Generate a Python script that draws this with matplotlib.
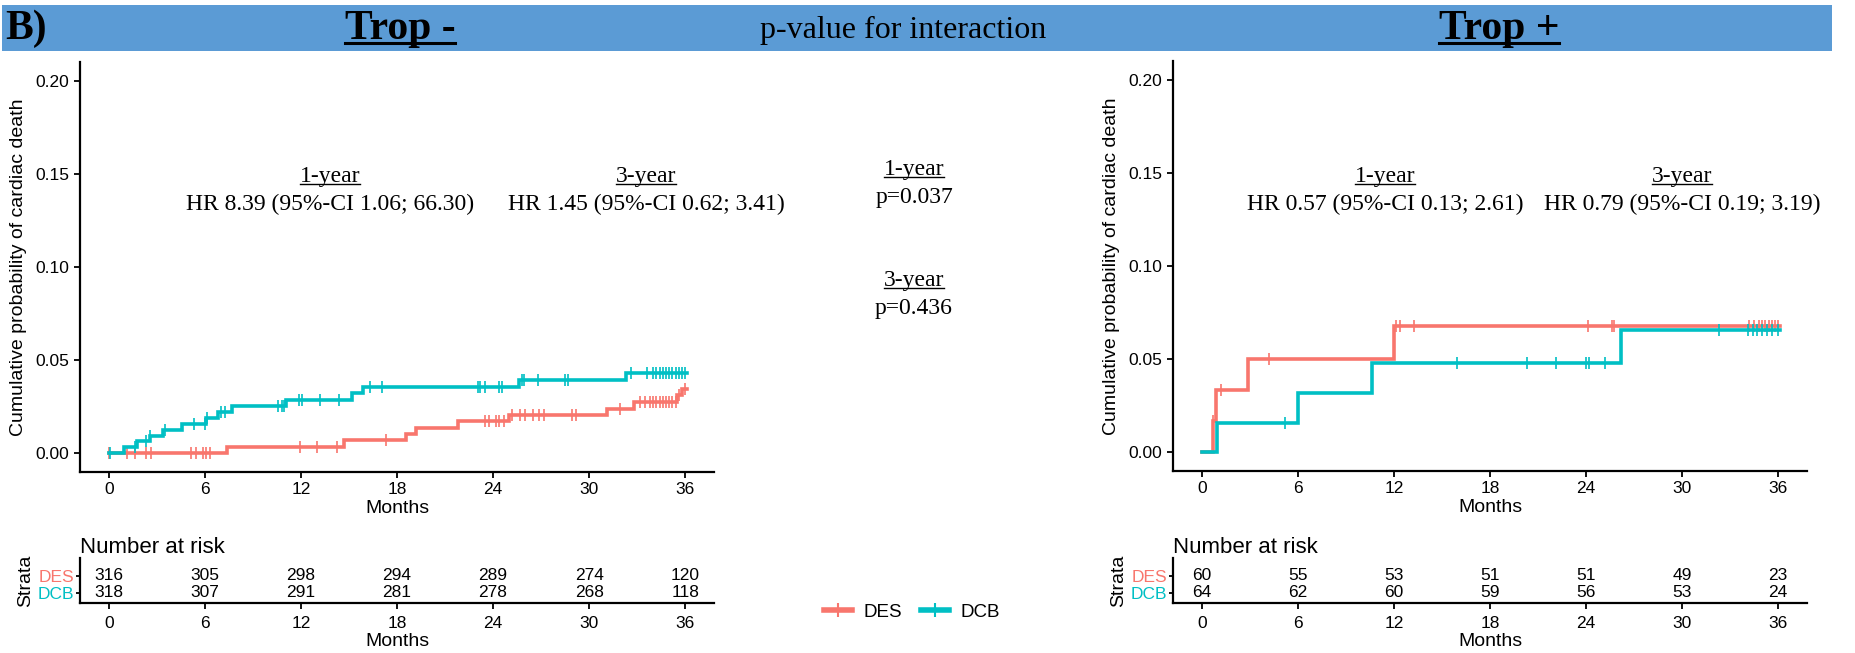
import matplotlib
matplotlib.use('Agg')

import numpy as np
import matplotlib.pyplot as plt
from matplotlib.lines import Line2D
from matplotlib.patches import Rectangle

# ---------------- data ----------------
months_ticks = [0, 6, 12, 18, 24, 30, 36]
groups = ['DES', 'DCB']
colors = {'DES': '#F8766D', 'DCB': '#00BFC4'}

# Trop - : cumulative incidence step curves (time in months, probability)
neg_des_t = [0, 7.4, 14.7, 18.55, 19.2, 21.8, 25.0, 31.1, 32.8, 35.5, 35.8, 36.1]
neg_des_y = [0, 0.0034, 0.0070, 0.0104, 0.0137, 0.0171, 0.0204, 0.0239, 0.0275, 0.0310, 0.0345, 0.0345]
neg_dcb_t = [0, 0.93, 1.75, 2.6, 3.4, 4.55, 6.1, 6.8, 7.7, 11.05, 15.2, 15.9, 25.6, 32.3, 36.1]
neg_dcb_y = [0, 0.0031, 0.0063, 0.0094, 0.0126, 0.0158, 0.0190, 0.0222, 0.0254, 0.0286, 0.0321, 0.0355,
             0.0392, 0.0431, 0.0431]

neg_des_cens = [0.0, 1.13, 1.66, 2.32, 2.66, 5.16, 5.47, 5.87, 6.08, 6.34, 11.97, 13.03, 14.24, 17.3,
                23.5, 23.76, 24.16, 24.4, 24.7, 25.2, 25.7, 26.0, 26.5, 26.9, 27.2, 28.9, 29.2, 31.9,
                33.2, 33.5, 33.8, 34.0, 34.2, 34.4, 34.6, 34.8, 35.0, 35.2, 35.4, 35.6, 36.0]
neg_dcb_cens = [0.1, 1.66, 2.3, 2.6, 3.5, 5.34, 6.0, 6.15, 7.0, 7.26, 10.55, 10.8, 10.95, 11.9, 12.05,
                13.2, 14.4, 16.3, 17.05, 23.05, 23.2, 23.5, 24.4, 24.55, 25.8, 25.95, 26.8, 28.5, 28.7,
                32.6, 33.6, 34.0, 34.2, 34.4, 34.6, 34.8, 35.0, 35.2, 35.4, 35.6, 35.8, 36.0]

# Trop +
pos_des_t = [0, 0.7, 0.86, 2.87, 12.0, 36.1]
pos_des_y = [0, 0.0167, 0.0333, 0.0500, 0.0679, 0.0679]
pos_dcb_t = [0, 0.95, 6.03, 10.6, 26.2, 36.1]
pos_dcb_y = [0, 0.0156, 0.0317, 0.0478, 0.0657, 0.0657]

pos_des_cens = [0.72, 1.2, 4.2, 12.15, 12.35, 13.25, 24.1, 25.65, 25.75, 34.2, 34.5, 34.8, 35.0,
                35.2, 35.4, 35.6, 35.8, 36.0]
pos_dcb_cens = [5.17, 15.95, 20.3, 22.1, 24.0, 24.2, 25.2, 32.3, 34.1, 34.4, 34.7, 35.0, 35.3, 35.6, 36.0]

# number at risk
neg_risk = {'DES': [316, 305, 298, 294, 289, 274, 120],
            'DCB': [318, 307, 291, 281, 278, 268, 118]}
pos_risk = {'DES': [60, 55, 53, 51, 51, 49, 23],
            'DCB': [64, 62, 60, 59, 56, 53, 24]}

# hazard ratios / interaction p-values
neg_hr = ['HR 8.39 (95%-CI 1.06; 66.30)', 'HR 1.45 (95%-CI 0.62; 3.41)']
pos_hr = ['HR 0.57 (95%-CI 0.13; 2.61)', 'HR 0.79 (95%-CI 0.19; 3.19)']
p_inter = ['p=0.037', 'p=0.436']
periods = ['1-year', '3-year']

# ---------------- figure ----------------
W, H = 1855, 653
fig = plt.figure(figsize=(W / 100, H / 100), dpi=100)
SANS = 'Liberation Sans'
SERIF = 'Liberation Serif'


def fx(x):
    return x / W


def fy(y):
    return 1 - y / H


def box(x0, y0, x1, y1):
    return [fx(x0), fy(y1), fx(x1) - fx(x0), (y1 - y0) / H]


underlined = []


def serif_text(x, y, s, size, weight='normal', underline=False):
    t = fig.text(fx(x), fy(y), s, ha='center', va='baseline', fontsize=size,
                 fontweight=weight, family=SERIF)
    if underline:
        underlined.append(t)
    return t


def step_value(t_list, y_list, t):
    idx = np.searchsorted(t_list, t, side='right') - 1
    return np.asarray(y_list)[idx]


def style_axis(ax):
    for s in ['top', 'right']:
        ax.spines[s].set_visible(False)
    for s in ['left', 'bottom']:
        ax.spines[s].set_linewidth(1.6)
    ax.tick_params(width=1.3, length=4, labelsize=12.5, colors='black')
    for lab in ax.get_xticklabels() + ax.get_yticklabels():
        lab.set_family(SANS)


def km_panel(rect, curves):
    ax = fig.add_axes(rect)
    for name, t, y, cens in curves:
        ax.step(t, y, where='post', color=colors[name], lw=2.6, solid_joinstyle='miter')
        cy = [step_value(t, y, c) for c in cens]
        ax.plot(cens, cy, ls='none', marker='|', ms=9, mew=1.2, color=colors[name])
    ax.set_xlim(-1.8, 37.8)
    ax.set_ylim(-0.0102, 0.2102)
    ax.set_xticks(months_ticks)
    ax.set_yticks([0, 0.05, 0.10, 0.15, 0.20])
    ax.set_yticklabels(['0.00', '0.05', '0.10', '0.15', '0.20'])
    ax.set_xlabel('Months', fontsize=14, family=SANS, labelpad=2)
    ax.set_ylabel('Cumulative probability of cardiac death', fontsize=14, family=SANS, labelpad=6)
    style_axis(ax)
    return ax


def risk_panel(rect, risk):
    ax = fig.add_axes(rect)
    for i, name in enumerate(groups):
        yv = 2 - i
        for m, n in zip(months_ticks, risk[name]):
            ax.text(m, yv, str(n), ha='center', va='center', fontsize=12.5, family=SANS)
    ax.set_xlim(-1.8, 37.8)
    ax.set_ylim(0.4, 2.6)
    ax.set_xticks(months_ticks)
    ax.set_yticks([2, 1])
    ax.set_yticklabels(groups)
    style_axis(ax)
    for lab, name in zip(ax.get_yticklabels(), groups):
        lab.set_color(colors[name])
    ax.tick_params(axis='y', length=3, pad=1)
    ax.tick_params(axis='x', pad=5)
    ax.set_xlabel('Months', fontsize=14, family=SANS, labelpad=2)
    ax.set_ylabel('Strata', fontsize=14, family=SANS, labelpad=3)
    ax.text(0.0, 1.0, 'Number at risk', transform=ax.transAxes, fontsize=16, family=SANS,
            ha='left', va='bottom')
    return ax


# header band
fig.add_artist(Rectangle((fx(2), fy(51)), fx(1832) - fx(2), 46 / H, transform=fig.transFigure,
                         facecolor='#5B9BD5', edgecolor='none', zorder=0))
fig.text(fx(5), fy(39), 'B)', ha='left', va='baseline', fontsize=30, fontweight='bold', family=SERIF)
serif_text(400, 39, 'Trop -', 30, 'bold', underline=True)
serif_text(903, 38, 'p-value for interaction', 23)
serif_text(1499, 39, 'Trop +', 30, 'bold', underline=True)

# Trop - panel
km_panel(box(80, 62, 714, 472),
         [('DES', neg_des_t, neg_des_y, neg_des_cens),
          ('DCB', neg_dcb_t, neg_dcb_y, neg_dcb_cens)])
risk_panel(box(80, 558, 714, 603), neg_risk).set_ylim(0.4, 3.05)

# Trop + panel
km_panel(box(1173, 61, 1807, 471),
         [('DES', pos_des_t, pos_des_y, pos_des_cens),
          ('DCB', pos_dcb_t, pos_dcb_y, pos_dcb_cens)])
risk_panel(box(1173, 558, 1807, 603), pos_risk).set_ylim(0.4, 3.05)

# HR annotations
for cx, per, hr in zip([330, 646], periods, neg_hr):
    serif_text(cx, 182, per, 17, underline=True)
    serif_text(cx, 210, hr, 17)
for cx, per, hr in zip([1385, 1682], periods, pos_hr):
    serif_text(cx, 182, per, 17, underline=True)
    serif_text(cx, 210, hr, 17)

# interaction p-values
for by, per, p in zip([175, 286], periods, p_inter):
    serif_text(914, by, per, 17, underline=True)
    serif_text(914, by + 28, p, 17)

# legend
handles = [Line2D([], [], color=colors[g], lw=4, marker='+', ms=10, mew=1.5) for g in groups]
fig.legend(handles, groups, loc='center', bbox_to_anchor=(fx(912), fy(612)), ncol=2, frameon=False,
           prop={'family': SANS, 'size': 13.5}, handlelength=1.5, columnspacing=1.0, handletextpad=0.6)

# underline texts
fig.canvas.draw()
renderer = fig.canvas.get_renderer()
for t in underlined:
    bb = t.get_window_extent(renderer)
    size_px = t.get_fontsize() * 100 / 72
    ybase = t.get_position()[1] * H
    yl = (ybase - 0.09 * size_px) / H
    lw = 2.2 if t.get_fontweight() == 'bold' else 1.0
    fig.add_artist(Line2D([bb.x0 / W, bb.x1 / W], [yl, yl], transform=fig.transFigure,
                          color='black', lw=lw))

fig.savefig('out.png', dpi=100)
